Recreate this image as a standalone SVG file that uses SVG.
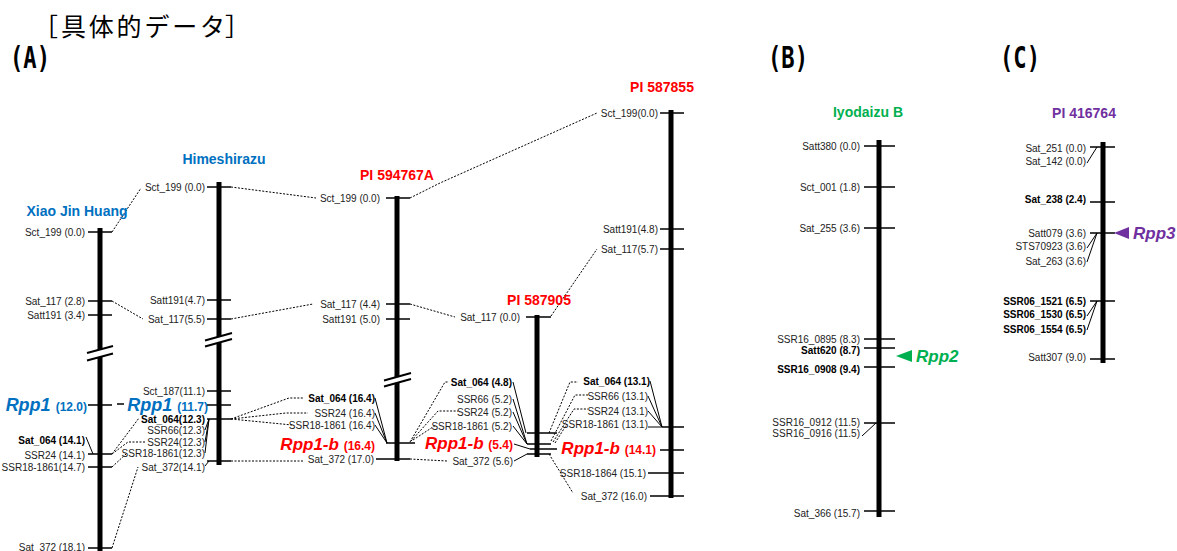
<svg xmlns="http://www.w3.org/2000/svg" width="1177" height="551" viewBox="0 0 1177 551">
<style>
.bar{stroke:#000;stroke-width:5}
.tk{stroke:#000;stroke-width:1.5;fill:none}
.ln{stroke:#000;stroke-width:1;fill:none}
.dot{stroke:#000;stroke-width:1;stroke-dasharray:2 1.5;fill:none}
.brk{fill:#fff;stroke:none}
.brl{stroke:#000;stroke-width:2;fill:none}
text{font-family:"Liberation Sans",Arial,sans-serif}
.l{font-size:10px;fill:#222;text-anchor:end}
.b{font-weight:bold;fill:#000}
.t{font-size:14px;font-weight:bold;text-anchor:middle}
.blue{fill:#0070C0}
.red{fill:#FF0000}
.green{fill:#00B050}
.purple{fill:#7030A0}
.gene{font-size:18px;font-weight:bold;font-style:italic}
.gv{font-size:12px;font-weight:bold;font-style:normal}
.pl{font-family:"DejaVu Sans Mono",monospace;font-weight:bold;font-size:30px;fill:#000}
.cjk{font-family:"Noto Sans CJK JP","Noto Sans CJK SC",sans-serif;font-size:25px;fill:#000}
</style>
<rect width="1177" height="551" fill="#fff"/>
<text class="cjk" x="33" y="36">［</text>
<text class="cjk" x="61" y="36" textLength="164" lengthAdjust="spacing">具体的データ</text>
<text class="cjk" x="225" y="36">］</text>
<text class="pl" x="10" y="68" textLength="40" lengthAdjust="spacingAndGlyphs">(A)</text>
<text class="pl" x="768" y="68" textLength="40" lengthAdjust="spacingAndGlyphs">(B)</text>
<text class="pl" x="1000" y="68" textLength="40" lengthAdjust="spacingAndGlyphs">(C)</text>

<g id="connectors">
<path class="dot" d="M112 232L141 188"/>
<path class="dot" d="M112 301L143 319"/>
<path class="dot" d="M112 454L139 418"/>
<path class="dot" d="M112 454L128 442H145"/>
<path class="dot" d="M112 467L126 454"/>
<path class="dot" d="M112 548L138 467"/>
<path class="dot" d="M231 187L316 198"/>
<path class="dot" d="M231 319L313 304"/>
<path class="dot" d="M231 419L289 398H304"/>
<path class="dot" d="M231 419L286 413H308"/>
<path class="dot" d="M231 419L292 425"/>
<path class="dot" d="M231 461H303"/>
<path class="dot" d="M410 198L440 183L597 113"/>
<path class="dot" d="M410 304L455 317"/>
<path class="dot" d="M410 442L445 382H448"/>
<path class="dot" d="M411 441L438 411H458"/>
<path class="dot" d="M413 440L436 425"/>
<path class="dot" d="M410 459L447 461"/>
<path class="dot" d="M551 316L597 249"/>
<path class="dot" d="M549 433L570 382H578"/>
<path class="dot" d="M551 441L575 395H588"/>
<path class="dot" d="M553 442L574 409H588"/>
<path class="dot" d="M555 443L567 424"/>
<path class="dot" d="M549 454L573 493"/>
<path class="ln" d="M117 404H124" style="stroke-width:1.5"/>
</g>

<g id="xiao-jin-huang">
<text class="t blue" x="77" y="216">Xiao Jin Huang</text>
<line class="bar" x1="100" y1="228" x2="100" y2="551"/>
<path class="tk" d="M88 232H112M88 301H112M88 315H112M88 405H112M88 454H112M88 467H112M88 548H112"/>
<polygon class="brk" points="86,353 114,345.5 114,353 86,360.5"/>
<path class="brl" d="M87 353L113 346M87 360.5L113 353.5"/>
<text class="l" x="85" y="235.5">Sct_199 (0.0)</text>
<text class="l" x="85" y="304.5">Sat_117 (2.8)</text>
<text class="l" x="85" y="318.5">Satt191 (3.4)</text>
<text class="l b" x="85" y="443.5">Sat_064 (14.1)</text>
<text class="l" x="85" y="458.5">SSR24 (14.1)</text>
<text class="l" x="85" y="470.5">SSR18-1861(14.7)</text>
<text class="l" x="85" y="551">Sat_372 (18.1)</text>
<path class="ln" d="M86 437L93 454"/>
<text class="gene blue" x="87" y="411" text-anchor="end">Rpp1 <tspan class="gv">(12.0)</tspan></text>
</g>

<g id="himeshirazu">
<text class="t blue" x="224" y="164">Himeshirazu</text>
<line class="bar" x1="219" y1="182" x2="219" y2="465"/>
<path class="tk" d="M207 187H231M207 300H231M207 319H231M207 391H231M207 405H231M207 419H231M207 461H231"/>
<polygon class="brk" points="205,340 233,332.5 233,339 205,346.5"/>
<path class="brl" d="M205 340.5L232 333M205 346.5L232 339"/>
<text class="l" x="205" y="190.5">Sct_199 (0.0)</text>
<text class="l" x="205" y="303.5">Satt191(4.7)</text>
<text class="l" x="205" y="322.5">Sat_117(5.5)</text>
<text class="l" x="205" y="394.5">Sct_187(11.1)</text>
<text class="l b" x="205" y="422.5">Sat_064(12.3)</text>
<text class="l" x="205" y="433.5">SSR66(12.3)</text>
<text class="l" x="205" y="445.5">SSR24(12.3)</text>
<text class="l" x="205" y="456.5">SSR18-1861(12.3)</text>
<text class="l" x="205" y="470.5">Sat_372(14.1)</text>
<path class="ln" d="M205 430L209 419M205 442L209 419M205 453L209 419M205 466L209 461"/>
<text class="gene blue" x="208" y="411" text-anchor="end">Rpp1 <tspan class="gv">(11.7)</tspan></text>
</g>

<g id="pi-594767a">
<text class="t red" x="397" y="180">PI 594767A</text>
<line class="bar" x1="397" y1="196" x2="397" y2="461"/>
<path class="tk" d="M386 198H410M386 304H410M386 319H410M386 443H415M376 459H410"/>
<polygon class="brk" points="384,380 411,372.5 411,379 384,386.5"/>
<path class="brl" d="M384 380.5L411 373M384 386.5L411 379"/>
<text class="l" x="380" y="201.5">Sct_199 (0.0)</text>
<text class="l" x="380" y="307.5">Sat_117 (4.4)</text>
<text class="l" x="380" y="322.5">Satt191 (5.0)</text>
<text class="l b" x="375" y="401.5">Sat_064 (16.4)</text>
<text class="l" x="375" y="416.5">SSR24 (16.4)</text>
<text class="l" x="375" y="428.5">SSR18-1861 (16.4)</text>
<text class="l" x="374" y="462.5">Sat_372 (17.0)</text>
<path class="ln" d="M375 398L387 443M375 413L387 443M375 425L387 443"/>
<text class="gene red" x="375" y="450" text-anchor="end" style="font-size:17px">Rpp1-b <tspan class="gv">(16.4)</tspan></text>
</g>

<g id="pi-587905">
<text class="t red" x="539" y="305">PI 587905</text>
<line class="bar" x1="537" y1="315" x2="537" y2="457"/>
<path class="tk" d="M526 317H551M527 433H557M527 444H551M530 449H557M527 454H551"/>
<text class="l" x="520" y="320.5">Sat_117 (0.0)</text>
<text class="l b" x="512" y="385.5">Sat_064 (4.8)</text>
<text class="l" x="512" y="402.5">SSR66 (5.2)</text>
<text class="l" x="512" y="415.5">SSR24 (5.2)</text>
<text class="l" x="512" y="429.5">SSR18-1861 (5.2)</text>
<text class="l" x="513" y="464.5">Sat_372 (5.6)</text>
<path class="ln" d="M513 382L526 433M513 399L527 444M513 412L527 444M513 426L527 444M514 444L530 449M514 461L527 454"/>
<text class="gene red" x="513" y="449" text-anchor="end" style="font-size:17px">Rpp1-b <tspan class="gv">(5.4)</tspan></text>
</g>

<g id="pi-587855">
<text class="t red" x="662" y="92">PI 587855</text>
<line class="bar" x1="671" y1="110" x2="671" y2="498"/>
<path class="tk" d="M660 113H684M660 229H684M660 249H684M662 427H684M660 450H684M648 473H684M650 496H684"/>
<path class="ln" d="M650 381L662 427M648 396L662 427M648 411L662 427M648 427H662"/>
<text class="l" x="658" y="116.5">Sct_199(0.0)</text>
<text class="l" x="658" y="232.5">Satt191(4.8)</text>
<text class="l" x="658" y="252.5">Sat_117(5.7)</text>
<text class="l b" x="650" y="384.5">Sat_064 (13.1)</text>
<text class="l" x="648" y="399.5">SSR66 (13.1)</text>
<text class="l" x="648" y="414.5">SSR24 (13.1)</text>
<text class="l" x="648" y="427.5">SSR18-1861 (13.1)</text>
<text class="l" x="646" y="476.5">SSR18-1864 (15.1)</text>
<text class="l" x="647" y="499.5">Sat_372 (16.0)</text>
<text class="gene red" x="656" y="454" text-anchor="end" style="font-size:17px">Rpp1-b <tspan class="gv">(14.1)</tspan></text>
</g>

<g id="iyodaizu-b">
<text class="t green" x="868" y="117">Iyodaizu B</text>
<line class="bar" x1="879" y1="140" x2="879" y2="517"/>
<path class="tk" d="M864 146H895M864 187H895M864 228H895M864 339H895M864 348H895M864 367H895M864 423H895M864 511H895"/>
<path class="ln" d="M862 436L876 423"/>
<text class="l" x="860" y="149.5">Satt380 (0.0)</text>
<text class="l" x="860" y="190.5">Sct_001 (1.8)</text>
<text class="l" x="860" y="231.5">Sat_255 (3.6)</text>
<text class="l" x="860" y="342.5">SSR16_0895 (8.3)</text>
<text class="l b" x="860" y="353.5">Satt620 (8.7)</text>
<text class="l b" x="860" y="372.5">SSR16_0908 (9.4)</text>
<text class="l" x="860" y="425.5">SSR16_0912 (11.5)</text>
<text class="l" x="860" y="436.5">SSR16_0916 (11.5)</text>
<text class="l" x="860" y="516.5">Sat_366 (15.7)</text>
<polygon class="green" points="896,356 912,350 912,362"/>
<text class="gene green" x="916" y="362" style="font-size:17px">Rpp2</text>
</g>

<g id="pi-416764">
<text class="t purple" x="1084" y="118">PI 416764</text>
<line class="bar" x1="1103" y1="142" x2="1103" y2="363"/>
<path class="tk" d="M1090 147H1115M1090 202H1115M1090 233H1115M1090 301H1115M1090 359H1115"/>
<path class="ln" d="M1087 163L1097 147M1087 248L1097 233M1087 262L1097 233M1087 316L1097 301M1087 330L1097 301"/>
<text class="l" x="1086" y="151.5">Sat_251 (0.0)</text>
<text class="l" x="1086" y="164.5">Sat_142 (0.0)</text>
<text class="l b" x="1086" y="202.5">Sat_238 (2.4)</text>
<text class="l" x="1086" y="236.5">Satt079 (3.6)</text>
<text class="l" x="1086" y="249.5">STS70923 (3.6)</text>
<text class="l" x="1086" y="264.5">Sat_263 (3.6)</text>
<text class="l b" x="1086" y="304.5">SSR06_1521 (6.5)</text>
<text class="l b" x="1086" y="317.5">SSR06_1530 (6.5)</text>
<text class="l b" x="1086" y="332.5">SSR06_1554 (6.5)</text>
<text class="l" x="1086" y="360.5">Satt307 (9.0)</text>
<polygon class="purple" points="1114,233 1129,227 1129,239"/>
<text class="gene purple" x="1133" y="239" style="font-size:17px">Rpp3</text>
</g>
</svg>
